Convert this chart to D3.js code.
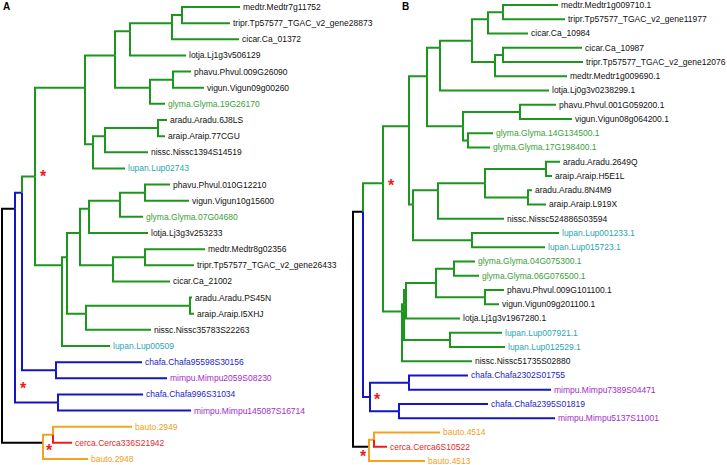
<!DOCTYPE html>
<html><head><meta charset="utf-8">
<script src="https://cdn.jsdelivr.net/npm/d3@7"></script>
<style>body{margin:0;background:#fff}svg{display:block}</style>
</head><body><svg id="c" width="727" height="465"></svg>
<script>
// ---------- Panel A ----------
const leavesA = ["medtr.Medtr7g11752","tripr.Tp57577_TGAC_v2_gene28873","cicar.Ca_01372","lotja.Lj1g3v506129",
"phavu.Phvul.009G26090","vigun.Vigun09g00260","glyma.Glyma.19G26170","aradu.Aradu.6J8LS","araip.Araip.77CGU",
"nissc.Nissc1394S14519","lupan.Lup02743","phavu.Phvul.010G12210","vigun.Vigun10g15600","glyma.Glyma.07G04680",
"lotja.Lj3g3v253233","medtr.Medtr8g02356","tripr.Tp57577_TGAC_v2_gene26433","cicar.Ca_21002","aradu.Aradu.PS45N",
"araip.Araip.I5XHJ","nissc.Nissc35783S22263","lupan.Lup00509","chafa.Chafa95598S30156","mimpu.Mimpu2059S08230",
"chafa.Chafa996S31034","mimpu.Mimpu145087S16714","bauto.2949","cerca.Cerca336S21942","bauto.2948"];
// [node, parent, distance from root]
const treeA = [
["R",null,0],["nB1","R",.13],["nB2","nB1",.20],["nG","nB2",.33],
["nG1","nG",.83],["nG1a","nG1",1.13],["nG1a1","nG1a",1.28],["nG1a1a","nG1a1",1.70],["n12","nG1a1a",1.80],
["medtr.Medtr7g11752","n12",2.38],["tripr.Tp57577_TGAC_v2_gene28873","n12",2.28],["cicar.Ca_01372","nG1a1a",2.37],
["lotja.Lj1g3v506129","nG1a1",1.84],["nG1a2","nG1a",1.48],["n56","nG1a2",1.71],
["phavu.Phvul.009G26090","n56",1.89],["vigun.Vigun09g00260","n56",2.02],["glyma.Glyma.19G26170","nG1a2",1.63],
["nG1b","nG1",.91],["nG1b1","nG1b",1.03],["n89","nG1b1",1.56],["aradu.Aradu.6J8LS","n89",1.65],
["araip.Araip.77CGU","n89",1.63],["nissc.Nissc1394S14519","nG1b1",1.46],["lupan.Lup02743","nG1b",1.23],
["nG2","nG",.60],["nG2a","nG2",.65],["nG2a1","nG2a",.78],["nG2a1a","nG2a1",.87],["nG2a1a1","nG2a1a",1.18],
["n1213","nG2a1a1",1.43],["phavu.Phvul.010G12210","n1213",1.68],["vigun.Vigun10g15600","n1213",1.87],
["glyma.Glyma.07G04680","nG2a1a1",1.41],["lotja.Lj3g3v253233","nG2a1a",1.46],["nG2a1b","nG2a1",1.11],
["n1617","nG2a1b",1.43],["medtr.Medtr8g02356","n1617",2.03],["tripr.Tp57577_TGAC_v2_gene26433","n1617",1.92],
["cicar.Ca_21002","nG2a1b",1.68],["nG2a2","nG2a",.84],["n1920","nG2a2",1.88],["aradu.Aradu.PS45N","n1920",1.90],
["araip.Araip.I5XHJ","n1920",1.92],["nissc.Nissc35783S22263","nG2a2",1.49],["lupan.Lup00509","nG2",1.08],
["n2324","nB2",.54],["chafa.Chafa95598S30156","n2324",1.40],["mimpu.Mimpu2059S08230","n2324",1.65],
["n2526","nB1",.56],["chafa.Chafa996S31034","n2526",1.41],["mimpu.Mimpu145087S16714","n2526",1.89],
["nO","R",.41],["n2728","nO",.51],["bauto.2949","n2728",1.30],["cerca.Cerca336S21942","n2728",.70],["bauto.2948","nO",.86]
];
const cladesA = [["nG","green"],["nB2","blue"],["n2526","blue"],["n2728","orange"],["bauto.2948","orange"],["cerca.Cerca336S21942","red"]];
// support asterisks: [distance, leaf index]
const starsA = [[.41,10.28],[.21,23.4],[.47,27.26]];

// ---------- Panel B ----------
const leavesB = ["medtr.Medtr1g009710.1","tripr.Tp57577_TGAC_v2_gene11977","cicar.Ca_10984","cicar.Ca_10987",
"tripr.Tp57577_TGAC_v2_gene12076","medtr.Medtr1g009690.1","lotja.Lj0g3v0238299.1","phavu.Phvul.001G059200.1",
"vigun.Vigun08g064200.1","glyma.Glyma.14G134500.1","glyma.Glyma.17G198400.1","aradu.Aradu.2649Q","araip.Araip.H5E1L",
"aradu.Aradu.8N4M9","araip.Araip.L919X","nissc.Nissc524886S03594","lupan.Lup001233.1","lupan.Lup015723.1",
"glyma.Glyma.04G075300.1","glyma.Glyma.06G076500.1","phavu.Phvul.009G101100.1","vigun.Vigun09g201100.1",
"lotja.Lj1g3v1967280.1","lupan.Lup007921.1","lupan.Lup012529.1","nissc.Nissc51735S02880","chafa.Chafa2302S01755",
"mimpu.Mimpu7389S04471","chafa.Chafa2395S01819","mimpu.Mimpu5137S11001","bauto.4514","cerca.Cerca6S10522","bauto.4513"];
const treeB = [
["R",null,0],["nB1","R",.10],["nG","nB1",.30],["nBb","nB1",.17],
["n2728","nBb",.56],["chafa.Chafa2302S01755","n2728",1.15],["mimpu.Mimpu7389S04471","n2728",1.98],
["n2930","nBb",.46],["chafa.Chafa2395S01819","n2930",1.35],["mimpu.Mimpu5137S11001","n2930",2.02],
["nG1","nG",.56],["nG1a","nG1",.74],["nG1a1","nG1a",.87],["nG1a1a","nG1a1",1.19],["n13","nG1a1a",1.35],
["n12","n13",1.50],["medtr.Medtr1g009710.1","n12",2.05],["tripr.Tp57577_TGAC_v2_gene11977","n12",2.12],
["cicar.Ca_10984","n13",1.75],["n46","nG1a1a",1.42],["n45","n46",1.50],["cicar.Ca_10987","n45",2.29],
["tripr.Tp57577_TGAC_v2_gene12076","n45",2.30],["medtr.Medtr1g009690.1","n46",2.14],
["lotja.Lj0g3v0238299.1","nG1a1",1.96],["nG1a2","nG1a",1.10],["n89","nG1a2",1.67],
["phavu.Phvul.001G059200.1","n89",2.03],["vigun.Vigun08g064200.1","n89",2.19],["n1011","nG1a2",1.15],
["glyma.Glyma.14G134500.1","n1011",1.40],["glyma.Glyma.17G198400.1","n1011",1.37],
["nG1b","nG1",.60],["nG1b1","nG1b",.85],["n1215","nG1b1",1.32],["n1213","n1215",1.93],
["aradu.Aradu.2649Q","n1213",2.07],["araip.Araip.H5E1L","n1213",1.99],["n1415","n1215",1.75],
["aradu.Aradu.8N4M9","n1415",1.79],["araip.Araip.L919X","n1415",1.93],["nissc.Nissc524886S03594","nG1b1",1.51],
["n1718","nG1b",1.19],["lupan.Lup001233.1","n1718",2.06],["lupan.Lup015723.1","n1718",1.92],
["nG2","nG",.49],["nG2a","nG2",.51],["nG2a1","nG2a",.53],["nG2a1a","nG2a1",.83],["n1920","nG2a1a",1.01],
["glyma.Glyma.04G075300.1","n1920",1.22],["glyma.Glyma.06G076500.1","n1920",1.26],["n2122","nG2a1a",1.32],
["phavu.Phvul.009G101100.1","n2122",1.51],["vigun.Vigun09g201100.1","n2122",1.46],
["lotja.Lj1g3v1967280.1","nG2a1",1.07],["n2425","nG2a",.97],["lupan.Lup007921.1","n2425",1.49],
["lupan.Lup012529.1","n2425",1.52],["nissc.Nissc51735S02880","nG2",1.19],
["nO","R",.16],["n3132","nO",.21],["bauto.4514","n3132",.87],["cerca.Cerca6S10522","n3132",.34],["bauto.4513","nO",.72]
];
const cladesB = [["nG","green"],["nBb","blue"],["n3132","orange"],["bauto.4513","orange"],["cerca.Cerca6S10522","red"]];
const starsB = [[.38,12.42],[.24,27.44],[.10,31.44]];

// ---------- styles ----------
const branchCol = {green:"#1c961c",blue:"#1515c8",orange:"#f5a21e",red:"#ee1c1c",black:"#000"};
const labelCol = {glyma:"#3a9e3a",lupan:"#2aa6b0",chafa:"#2323c8",mimpu:"#a02cc8",bauto:"#f0a020",cerca:"#e02a2a"};

const svg = d3.select("#c");

function drawTree(rows, leaves, clades, stars, x0, y0, y1, title, tx) {
  const g = svg.append("g");
  const x = d3.scaleLinear().domain([0, 1]).range([x0, x0 + 100]);
  const y = d3.scaleLinear().domain([0, leaves.length - 1]).range([y0, y1]);
  const root = d3.stratify().id(d => d[0]).parentId(d => d[1])(rows);
  const cmap = new Map(clades);
  root.eachAfter(n => {
    n.yi = n.children ? d3.mean(n.leaves(), l => leaves.indexOf(l.id)) : leaves.indexOf(n.id);
  });
  const colorOf = n => {
    for (let a = n; a && a.parent; a = a.parent) if (cmap.has(a.id)) return branchCol[cmap.get(a.id)];
    return branchCol.black;
  };
  const edges = root.descendants().filter(n => n.parent);
  g.selectAll("path.e").data(edges).join("path")
    .attr("d", n => `M${x(n.parent.data[2])},${y(n.parent.yi)}V${y(n.yi)}H${x(n.data[2])}`)
    .attr("fill", "none").attr("stroke", colorOf).attr("stroke-width", 2)
    .attr("stroke-linejoin", "miter").attr("stroke-linecap", "butt");
  g.selectAll("text.l").data(root.leaves()).join("text")
    .attr("x", n => x(n.data[2]) + 3).attr("y", n => y(n.yi)).attr("dy", "0.35em")
    .attr("font-family", "Liberation Sans, Arial, sans-serif").attr("font-size", "8.5px")
    .attr("fill", n => labelCol[n.id.split(".")[0]] || "#111")
    .text(n => n.id);
  g.selectAll("text.s").data(stars).join("text")
    .attr("x", d => x(d[0])).attr("y", d => y(d[1])).attr("dy", "0.55em")
    .attr("text-anchor", "middle").attr("font-family", "Liberation Sans, Arial, sans-serif")
    .attr("font-weight", "bold").attr("font-size", "16px").attr("fill", "#ee1c1c").text("*");
  svg.append("text").attr("x", tx).attr("y", 10).attr("font-family", "Liberation Sans, Arial, sans-serif")
    .attr("font-weight", "bold").attr("font-size", "10px").text(title);
}
drawTree(treeA, leavesA, cladesA, starsA, 2, 7, 459, "A", 3);
drawTree(treeB, leavesB, cladesB, starsB, 353, 5, 461, "B", 402);
</script></body></html>
